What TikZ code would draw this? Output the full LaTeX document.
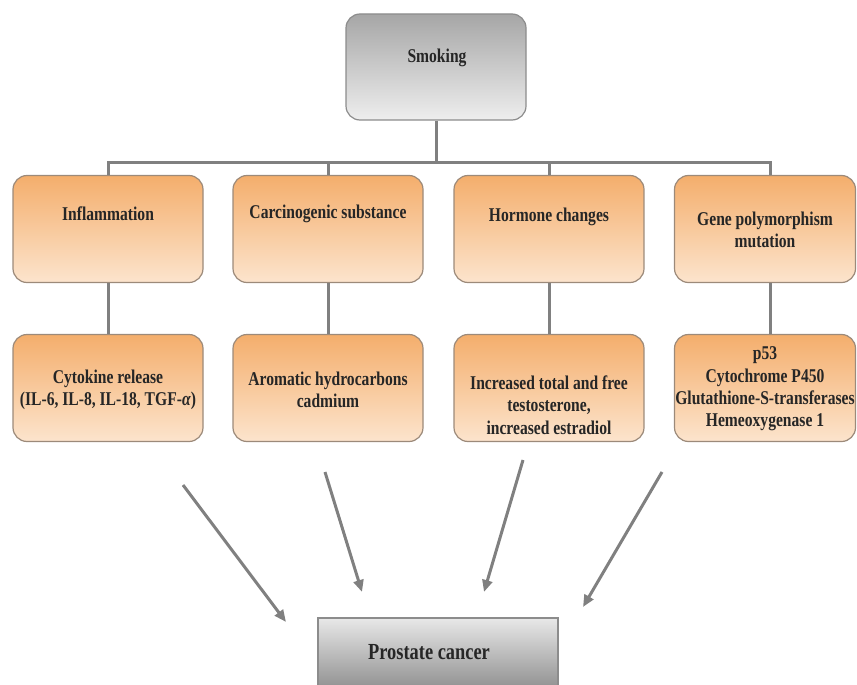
\documentclass[tikz,border=0pt]{standalone}
\usepackage{fontspec}
\setmainfont{Liberation Serif}[FakeStretch=0.8]
\usetikzlibrary{arrows.meta}
\definecolor{lnc}{HTML}{808080}
\definecolor{otop}{HTML}{F4AE6C}
\definecolor{obot}{HTML}{FCE4CD}
\definecolor{obord}{HTML}{9C8A7A}
\definecolor{gtop}{HTML}{A6A6A6}
\definecolor{gbot}{HTML}{EEEEEE}
\definecolor{gbord}{HTML}{8C8C8C}
\definecolor{ptop}{HTML}{E8E8E8}
\definecolor{pbot}{HTML}{8A8A8A}
\definecolor{txtc}{HTML}{262626}
\begin{document}
\begin{tikzpicture}[x=1pt,y=-1pt,
  obox/.style={draw=obord, line width=1.2pt, rounded corners=14pt, top color=otop, bottom color=obot, minimum width=190pt, minimum height=107pt, inner sep=0pt},
  gbox/.style={draw=gbord, line width=1.2pt, rounded corners=14pt, top color=gtop, bottom color=gbot, minimum width=180pt, minimum height=106pt, inner sep=0pt},
  pbox/.style={draw=gbord, line width=1.2pt, top color=ptop, bottom color=pbot, minimum width=240pt, minimum height=76pt, inner sep=0pt},
  txt/.style={font=\bfseries\fontsize{19.5}{22.3}\selectfont, text=txtc, align=center, inner sep=0pt},
  bigtxt/.style={font=\bfseries\fontsize{23}{26}\selectfont, text=txtc, align=center, inner sep=0pt},
  conn/.style={draw=lnc, line width=3pt},
  arr/.style={draw=lnc, line width=3pt, -{Triangle[length=12pt,width=10pt]}}]
\useasboundingbox (0,0) rectangle (857,685);

% Smoking
\node[gbox] (smoke) at (436,67) {};
\node[txt] (smoket) at (437,58) {Smoking};

% top row
\node[obox] (a1) at (108,229) {};
\node[obox] (a2) at (328,229) {};
\node[obox] (a3) at (549,229) {};
\node[obox, minimum width=181pt] (a4) at (765,229) {};
\node[txt] (a1t) at (108,214) {Inflammation};
\node[txt] (a2t) at (328,214) {Carcinogenic substance};
\node[txt] (a3t) at (549,217) {Hormone changes};
\node[txt] (a4t) at (765,230) {Gene polymorphism\\mutation};

% bottom row
\node[obox] (b1) at (108,388) {};
\node[obox] (b2) at (328,388) {};
\node[obox] (b3) at (549,388) {};
\node[obox, minimum width=181pt] (b4) at (765,388) {};
\node[txt] (b1t) at (108,390) {Cytokine release\\(IL-6, IL-8, IL-18, TGF-\textit{α})};
\node[txt] (b2t) at (328,390) {Aromatic hydrocarbons\\cadmium};
\node[txt] (b3t) at (549,405) {Increased total and free\\testosterone,\\increased estradiol};
\node[txt] (b4t) at (765,389) {p53\\Cytochrome P450\\Glutathione-S-transferases\\Hemeoxygenase 1};

% Prostate cancer
\node[pbox] (pc) at (438,656) {};
\node[bigtxt] (pct) at (429,652) {Prostate cancer};

% tree connectors
\coordinate (bus) at (437,162);
\draw[conn] (smoke.south) -- (smoke.south |- bus);
\draw[conn] (a1.north) -- (a1.north |- bus) -- ([xshift=5pt]a4.north |- bus) -- ([xshift=5pt]a4.north);
\draw[conn] (a2.north) -- (a2.north |- bus);
\draw[conn] (a3.north) -- (a3.north |- bus);
\draw[conn] (a1.south) -- (b1.north);
\draw[conn] (a2.south) -- (b2.north);
\draw[conn] (a3.south) -- (b3.north);
\draw[conn] ([xshift=5pt]a4.south) -- ([xshift=5pt]b4.north);

% arrows to prostate cancer
\coordinate (s1) at (183,485); \coordinate (e1) at (286,622);
\coordinate (s2) at (325,472); \coordinate (e2) at (362,592);
\coordinate (s3) at (523,460); \coordinate (e3) at (484,592);
\coordinate (s4) at (662,472); \coordinate (e4) at (583,607);
\draw[arr] (s1) -- (e1);
\draw[arr] (s2) -- (e2);
\draw[arr] (s3) -- (e3);
\draw[arr] (s4) -- (e4);
\end{tikzpicture}
\end{document}
